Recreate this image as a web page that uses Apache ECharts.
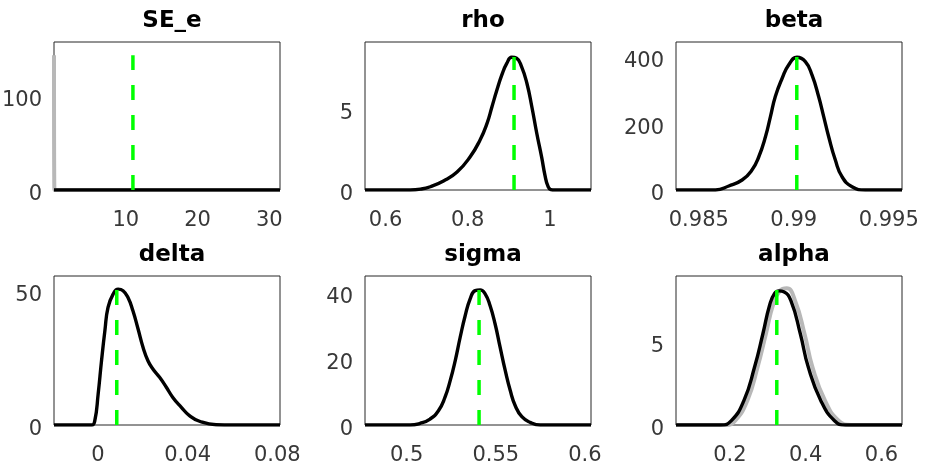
<!DOCTYPE html>
<html>
<head>
<meta charset="utf-8">
<script src="https://cdn.jsdelivr.net/npm/echarts@6/dist/echarts.min.js"></script>
<style>html,body{margin:0;padding:0;background:#fff}#c{width:928px;height:468px}</style>
</head>
<body>
<div id="c"></div>
<script>
// ---- data ----
const titles = ['SE_e', 'rho', 'beta', 'delta', 'sigma', 'alpha'];

// posterior (black) densities [x, density]
const sePost = [[0.0, 0], [10, 0], [20, 0], [31.5, 0]];
const rhoPost = [[0.55, 0], [0.66, 0], [0.685, 0.05], [0.709, 0.2], [0.741, 0.55], [0.774, 1.1], [0.806, 2.04], [0.830, 3.07], [0.847, 4.09], [0.859, 5.11], [0.871, 6.13], [0.883, 7.06], [0.895, 7.77], [0.907, 8.14], [0.919, 8.08], [0.931, 7.57], [0.944, 6.55], [0.956, 5.11], [0.968, 3.48], [0.980, 2.0], [0.988, 0.9], [0.995, 0.25], [1.002, 0.03], [1.012, 0], [1.1, 0]];
const betaPost = [[0.9838, 0], [0.98588, 0], [0.98658, 12], [0.98728, 30], [0.98780, 60], [0.98816, 100], [0.98851, 160], [0.98877, 220], [0.98903, 281], [0.98939, 336], [0.98973, 376], [0.99017, 399], [0.99061, 386], [0.99096, 346], [0.99131, 281], [0.99158, 220], [0.99184, 160], [0.99219, 90], [0.99254, 40], [0.99307, 10], [0.99377, 0], [0.9957, 0]];
const deltaPost = [[-0.0196, 0], [-0.0028, 0], [-0.0014, 1.6], [0.0001, 11.6], [0.0016, 24], [0.0031, 35.2], [0.0045, 43.9], [0.0068, 48.9], [0.0090, 50.7], [0.0112, 50.1], [0.0134, 47.6], [0.0156, 42.6], [0.0179, 35.8], [0.0201, 29], [0.0223, 24], [0.0245, 20.9], [0.0275, 17.8], [0.0305, 14.1], [0.0334, 10.3], [0.0372, 6.6], [0.0408, 3.5], [0.0453, 1.4], [0.0527, 0.1], [0.06, 0], [0.0812, 0]];
const sigmaPost = [[0.4766, 0], [0.5019, 0], [0.5075, 0.5], [0.5131, 1.8], [0.5178, 4.3], [0.5215, 8.4], [0.5244, 13.4], [0.5272, 19.4], [0.5300, 26.5], [0.5328, 33], [0.5356, 38.1], [0.5384, 40.6], [0.5412, 40.8], [0.5440, 39.6], [0.5468, 36], [0.5496, 30.5], [0.5524, 23.5], [0.5553, 16.4], [0.5581, 10.4], [0.5609, 5.8], [0.5646, 2.5], [0.5693, 0.8], [0.5749, 0], [0.6034, 0]];
const alphaPost = [[0.058, 0], [0.176, 0], [0.204, 0.26], [0.237, 1.46], [0.265, 3.46], [0.287, 5.46], [0.305, 7.2], [0.318, 7.9], [0.330, 8.05], [0.342, 8.0], [0.361, 7.46], [0.386, 5.46], [0.407, 3.46], [0.440, 1.46], [0.476, 0.26], [0.505, 0], [0.654, 0]];

// prior (grey) densities
const sePrior = [[0.0, 142], [0.06, 0], [31.5, 0]];
const alphaPrior = [[0.058, 0], [0.19, 0], [0.214, 0.26], [0.246, 1.46], [0.273, 3.46], [0.295, 5.46], [0.315, 7.3], [0.332, 8.05], [0.350, 8.2], [0.372, 7.46], [0.397, 5.46], [0.418, 3.46], [0.451, 1.46], [0.487, 0.26], [0.52, 0], [0.654, 0]];

// mode (green dashed) [x, height]
const modeX = [11.0, 0.9127, 0.99016, 0.0084, 0.5406, 0.3238];
const modeTop = [142, 8.16, 400, 50.7, 40.8, 8.2];

// axis ranges and tick labels
const xMin = [0, 0.55, 0.9838, -0.0196, 0.4766, 0.058];
const xMax = [31.5, 1.1, 0.9957, 0.0812, 0.6034, 0.654];
const xStep = [0.5, 0.05, 0.0001, 0.0002, 0.0002, 0.002];
const xTickLabels = [[10, 20, 30], [0.6, 0.8, 1], [0.985, 0.99, 0.995], [0, 0.04, 0.08], [0.5, 0.55, 0.6], [0.2, 0.4, 0.6]];
const yMax = [156, 9.08, 445, 55.6, 45, 8.94];
const yTickLabels = [[0, 100], [0, 5], [0, 200, 400], [0, 50], [0, 20, 40], [0, 5]];
const yStep = [100, 5, 200, 50, 20, 5];

const posts = [sePost, rhoPost, betaPost, deltaPost, sigmaPost, alphaPost];
const priors = [sePrior, null, null, null, null, alphaPrior];

// ---- layout ----
const gLeft = [54, 365, 676];
const gTop = [42, 276];
const gW = 226, gH = [148, 149];

const chart = echarts.init(document.getElementById('c'), null, {renderer: 'canvas'});
const grids = [], xAxes = [], yAxes = [], series = [], titleArr = [];
const tickFont = {fontFamily: 'DejaVu Sans', fontSize: 21, color: '#383838'};

function fmtFor(list) {
  return function (v) {
    for (const t of list) {
      if (Math.abs(v - t) < 1e-9 * Math.max(1, Math.abs(t)) + 1e-12) return String(t);
    }
    return '';
  };
}

for (let i = 0; i < 6; i++) {
  const r = Math.floor(i / 3), c = i % 3;
  grids.push({left: gLeft[c], top: gTop[r], width: gW, height: gH[r], show: true,
    borderColor: '#262626', borderWidth: 1, backgroundColor: '#fff', containLabel: false, outerBoundsMode: 'none'});
  titleArr.push({text: titles[i], left: gLeft[c] + gW / 2, top: gTop[r] - 37, textAlign: 'center',
    textStyle: {fontFamily: 'DejaVu Sans', fontWeight: 'bold', fontSize: 23, color: '#000'}});
  xAxes.push({type: 'value', gridIndex: i, min: xMin[i], max: xMax[i], interval: xStep[i],
    axisLine: {show: false}, axisTick: {show: false}, splitLine: {show: false},
    axisLabel: Object.assign({margin: 20, interval: 0, hideOverlap: false, showMinLabel: true, showMaxLabel: true, formatter: fmtFor(xTickLabels[i])}, tickFont)});
  yAxes.push({type: 'value', gridIndex: i, min: 0, max: yMax[i], interval: yStep[i],
    axisLine: {show: false}, axisTick: {show: false}, splitLine: {show: false},
    axisLabel: Object.assign({margin: 12, verticalAlign: 'top', lineHeight: 10, formatter: fmtFor(yTickLabels[i])}, tickFont)});
  if (priors[i]) {
    series.push({type: 'line', xAxisIndex: i, yAxisIndex: i, data: priors[i], showSymbol: false,
      smooth: 0.5, clip: i !== 0, silent: true,
      lineStyle: {color: '#b8b8b8', width: 4}});
  }
  series.push({type: 'line', xAxisIndex: i, yAxisIndex: i, data: posts[i], showSymbol: false,
    smooth: 0.5, silent: true, lineStyle: {color: '#000', width: 3.4}});
  series.push({type: 'line', xAxisIndex: i, yAxisIndex: i, data: [[modeX[i], 0], [modeX[i], modeTop[i]]],
    showSymbol: false, silent: true, lineStyle: {color: '#00ff00', width: 3.5, type: [15, 15]}});
}

chart.setOption({
  animation: false,
  backgroundColor: '#fff',
  title: titleArr,
  grid: grids,
  xAxis: xAxes,
  yAxis: yAxes,
  series: series
});
</script>
</body>
</html>
